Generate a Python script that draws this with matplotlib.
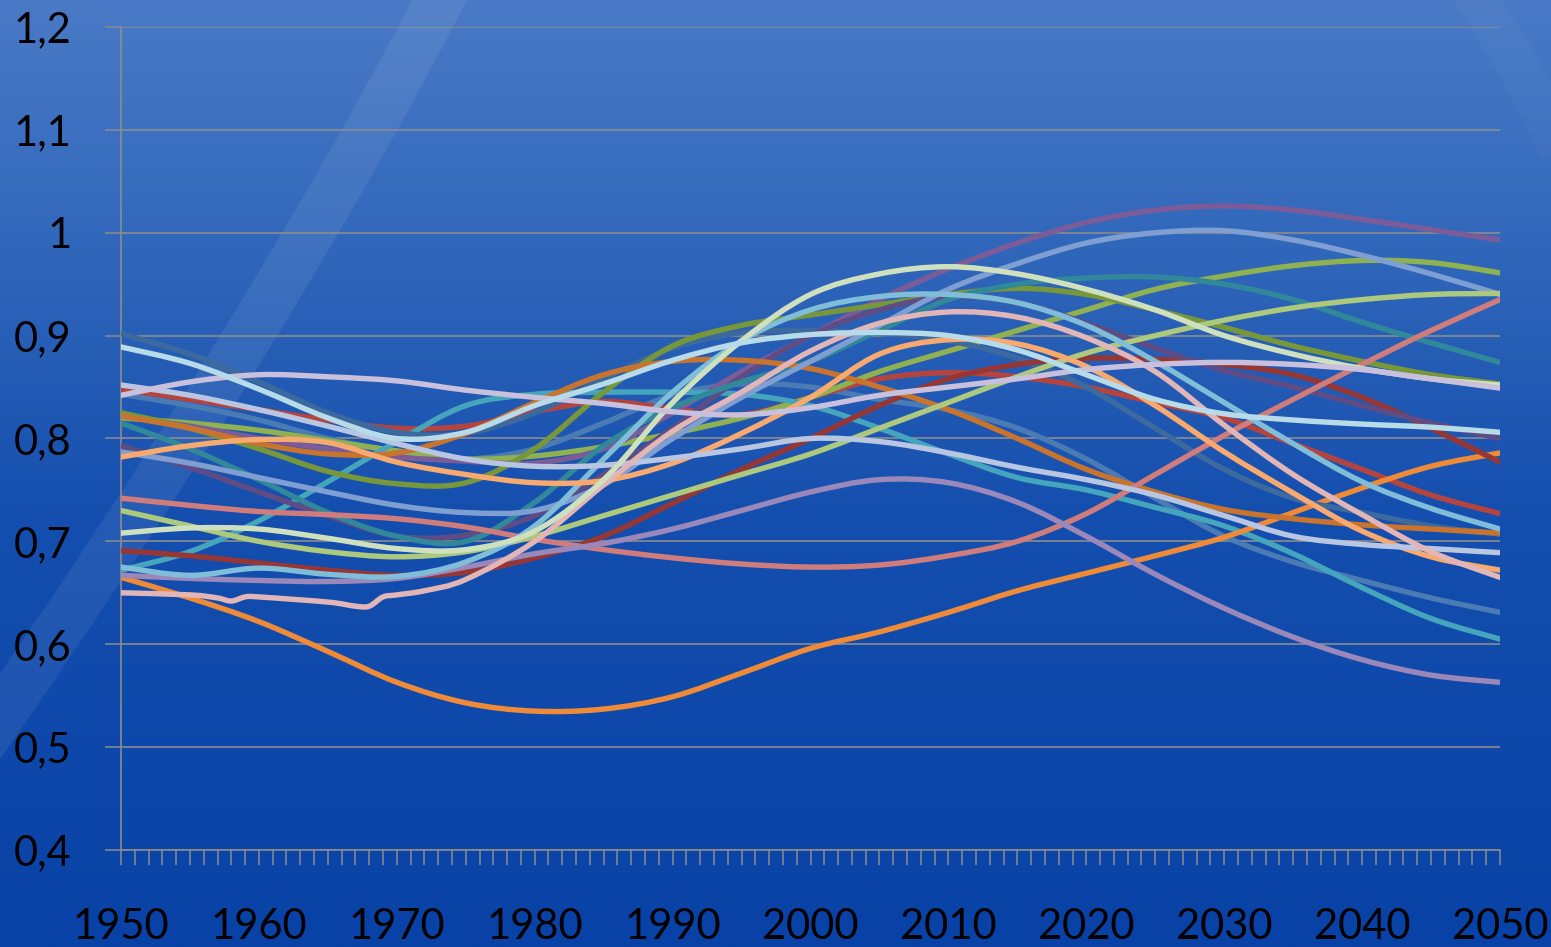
import numpy as np
import matplotlib
matplotlib.use('Agg')
import matplotlib.pyplot as plt
from matplotlib.path import Path
from matplotlib.patches import PathPatch
from matplotlib.ticker import MultipleLocator

YEARS = list(range(1950, 2051, 5))

# one list per series, values every five years 1950..2050
slate      = [.843, .832, .818, .800, .787, .780, .790, .815, .842, .853, .850, .838, .828, .810, .780, .742, .705, .680, .662, .645, .631]
red        = [.848, .838, .828, .818, .810, .812, .826, .836, .829, .823, .840, .858, .864, .860, .850, .835, .820, .795, .770, .745, .727]
green      = [.820, .815, .808, .798, .788, .780, .783, .792, .805, .820, .840, .865, .885, .905, .925, .945, .958, .968, .973, .971, .961]
purple     = [.822, .812, .800, .790, .782, .778, .776, .790, .825, .865, .900, .935, .965, .990, 1.01, 1.022, 1.026, 1.022, 1.013, 1.003, .993]
aqua       = [.672, .690, .720, .758, .797, .832, .843, .845, .845, .843, .832, .810, .785, .762, .750, .733, .715, .688, .655, .625, .605]
orange     = [.665, .645, .622, .593, .563, .543, .535, .537, .549, .572, .596, .612, .631, .652, .669, .686, .704, .728, .752, .773, .786]
dark_slate = [.902, .882, .855, .825, .806, .805, .825, .858, .888, .903, .905, .902, .895, .878, .850, .810, .770, .742, .728, .715, .707]
dark_red   = [.691, .686, .679, .672, .667, .670, .684, .705, .737, .770, .800, .832, .858, .872, .878, .877, .872, .862, .840, .810, .777]
olive      = [.825, .810, .790, .768, .756, .757, .790, .845, .890, .910, .920, .930, .940, .946, .940, .925, .908, .890, .875, .862, .853]
mauve      = [.793, .772, .748, .725, .705, .706, .725, .765, .810, .860, .900, .925, .938, .932, .912, .888, .866, .850, .832, .815, .800]
teal       = [.815, .790, .760, .728, .705, .700, .738, .793, .830, .855, .875, .905, .935, .950, .956, .957, .950, .935, .913, .893, .874]
brown      = [.822, .810, .795, .785, .786, .805, .835, .862, .875, .876, .868, .850, .828, .800, .770, .748, .731, .722, .716, .712, .708]
periwinkle = [.787, .776, .762, .748, .735, .728, .730, .755, .800, .840, .875, .910, .945, .970, .990, 1.000, 1.002, .993, .978, .960, .940]
salmon     = [.742, .735, .729, .726, .722, .714, .702, .692, .684, .678, .675, .677, .686, .700, .727, .765, .803, .838, .872, .905, .935]
lime       = [.730, .715, .700, .690, .685, .690, .705, .725, .745, .765, .785, .810, .835, .860, .883, .900, .915, .927, .935, .940, .941]
lilac_dark = [.667, .664, .662, .661, .664, .675, .688, .698, .712, .730, .748, .760, .757, .738, .705, .668, .635, .607, .585, .570, .563]
sky        = [.675, .667, .674, .668, .666, .680, .715, .780, .845, .895, .925, .938, .940, .932, .910, .875, .835, .795, .758, .732, .712]
peach      = [.782, .793, .799, .796, .777, .765, .757, .759, .776, .805, .840, .882, .896, .892, .870, .832, .787, .747, .710, .685, .672]
lavender   = [.852, .842, .828, .812, .795, .780, .773, .774, .781, .790, .800, .797, .786, .772, .760, .745, .725, .705, .697, .693, .689]
pale_green = [.708, .713, .712, .703, .693, .692, .710, .760, .835, .895, .940, .960, .967, .960, .945, .925, .900, .882, .868, .858, .852]
lilac      = [.842, .855, .862, .860, .856, .847, .840, .834, .826, .823, .830, .842, .850, .858, .867, .872, .874, .872, .867, .858, .849]
light_blue = [.889, .873, .848, .820, .800, .806, .832, .853, .876, .893, .901, .903, .900, .886, .862, .838, .824, .818, .814, .811, .806]

# the pink series has a few yearly values in the 1950s and 60s
PINK_YEARS = [1950, 1955, 1957, 1958, 1959, 1960, 1965, 1967, 1968, 1969, 1970, 1972, 1975,
              1980, 1985, 1990, 1995, 2000, 2005, 2010, 2015, 2020, 2025, 2030, 2035, 2040, 2045, 2050]
pink = [.650, .648, .645, .642, .646, .646, .641, .637, .637, .646, .648, .652, .663,
        .700, .755, .807, .845, .885, .912, .923, .918, .898, .865, .813, .765, .726, .690, .665]

YTICKS = [0.4, 0.5, 0.6, 0.7, 0.8, 0.9, 1.0, 1.1, 1.2]
YLABELS = ['0,4', '0,5', '0,6', '0,7', '0,8', '0,9', '1', '1,1', '1,2']
XTICKS = list(range(1950, 2051, 10))

# drawing order (later series sit on top)
series = [
    (YEARS, slate, '#4a7bb5'),
    (YEARS, red, '#b5443f'),
    (YEARS, green, '#8fb152'),
    (YEARS, purple, '#7b5c99'),
    (YEARS, aqua, '#45a5bd'),
    (YEARS, orange, '#ef8b38'),
    (YEARS, dark_slate, '#3d6a9e'),
    (YEARS, dark_red, '#963735'),
    (YEARS, olive, '#77973a'),
    (YEARS, mauve, '#5f4c85'),
    (YEARS, teal, '#31889b'),
    (YEARS, brown, '#c8742e'),
    (YEARS, periwinkle, '#7f9fd2'),
    (YEARS, salmon, '#d07c7c'),
    (YEARS, lime, '#acc97e'),
    (YEARS, lilac_dark, '#9a88ba'),
    (YEARS, sky, '#7fbdd8'),
    (YEARS, peach, '#f8a970'),
    (YEARS, lavender, '#b8c6e2'),
    (PINK_YEARS, pink, '#e2b6b6'),
    (YEARS, pale_green, '#cfe0bf'),
    (YEARS, lilac, '#c8c0dc'),
    (YEARS, light_blue, '#b7dbe8'),
]


def smooth_path(xs, ys):
    # Catmull-Rom style bezier through the data points
    p = np.column_stack([xs, ys]).astype(float)
    n = len(p)
    verts = [p[0]]
    codes = [Path.MOVETO]
    for i in range(n - 1):
        p0 = p[i - 1] if i > 0 else p[i]
        p3 = p[i + 2] if i + 2 < n else p[i + 1]
        c1 = p[i] + (p[i + 1] - p0) / 6.0
        c2 = p[i + 1] - (p3 - p[i]) / 6.0
        verts += [c1, c2, p[i + 1]]
        codes += [Path.CURVE4] * 3
    return Path(verts, codes)


W, H = 1551, 947
fig = plt.figure(figsize=(W / 100, H / 100), dpi=100)

# blue gradient backdrop with a faint light streak
bg = fig.add_axes([0, 0, 1, 1], zorder=-5)
stops = np.array([0.0, 0.3, 0.55, 1.0])
cols = np.array([[74, 122, 198], [45, 100, 185], [20, 78, 174], [8, 66, 166]]) / 255.0
t = np.linspace(0, 1, 400)
grad = np.stack([np.interp(t, stops, cols[:, k]) for k in range(3)], axis=1)
bg.imshow(grad[:, None, :], aspect='auto', extent=[0, W, H, 0])
streak = Path([(450, -20), (270, 330), (-30, 760)], [Path.MOVETO, Path.CURVE3, Path.CURVE3])
bg.add_patch(PathPatch(streak, fill=False, edgecolor='white', alpha=0.075, lw=35))
glare = Path([(1470, -10), (1520, 60), (1560, 150)], [Path.MOVETO, Path.CURVE3, Path.CURVE3])
bg.add_patch(PathPatch(glare, fill=False, edgecolor='white', alpha=0.03, lw=30))
bg.set_xlim(0, W)
bg.set_ylim(H, 0)
bg.axis('off')

ax = fig.add_axes([121 / W, 1 - 850 / H, (1500 - 121) / W, (850 - 27) / H])
ax.set_facecolor('none')

for xs, ys, c in series:
    ax.add_patch(PathPatch(smooth_path(xs, ys), fill=False, edgecolor=c, lw=3.9,
                           capstyle='round', joinstyle='round', zorder=3))

ax.set_xlim(1950, 2050)
ax.set_ylim(0.4, 1.2)

grid_c = '#8c8c8c'
ax.set_yticks(YTICKS, labels=YLABELS)
ax.set_xticks(XTICKS, labels=[str(x) for x in XTICKS])
ax.xaxis.set_minor_locator(MultipleLocator(1))
ax.grid(axis='y', color=grid_c, lw=1.2, zorder=1)
ax.tick_params(axis='y', length=11.5, width=1.1, color=grid_c, pad=24, labelsize=30, labelcolor='black')
ax.tick_params(axis='x', which='both', length=11, width=1.1, color=grid_c, pad=31, labelsize=30, labelcolor='black')
for lab in ax.get_xticklabels() + ax.get_yticklabels():
    lab.set_fontfamily('Lato')

for s in ['top', 'right']:
    ax.spines[s].set_visible(False)
for s in ['left', 'bottom']:
    ax.spines[s].set_color(grid_c)
    ax.spines[s].set_linewidth(1.2)

fig.savefig('out.png', dpi=100)
